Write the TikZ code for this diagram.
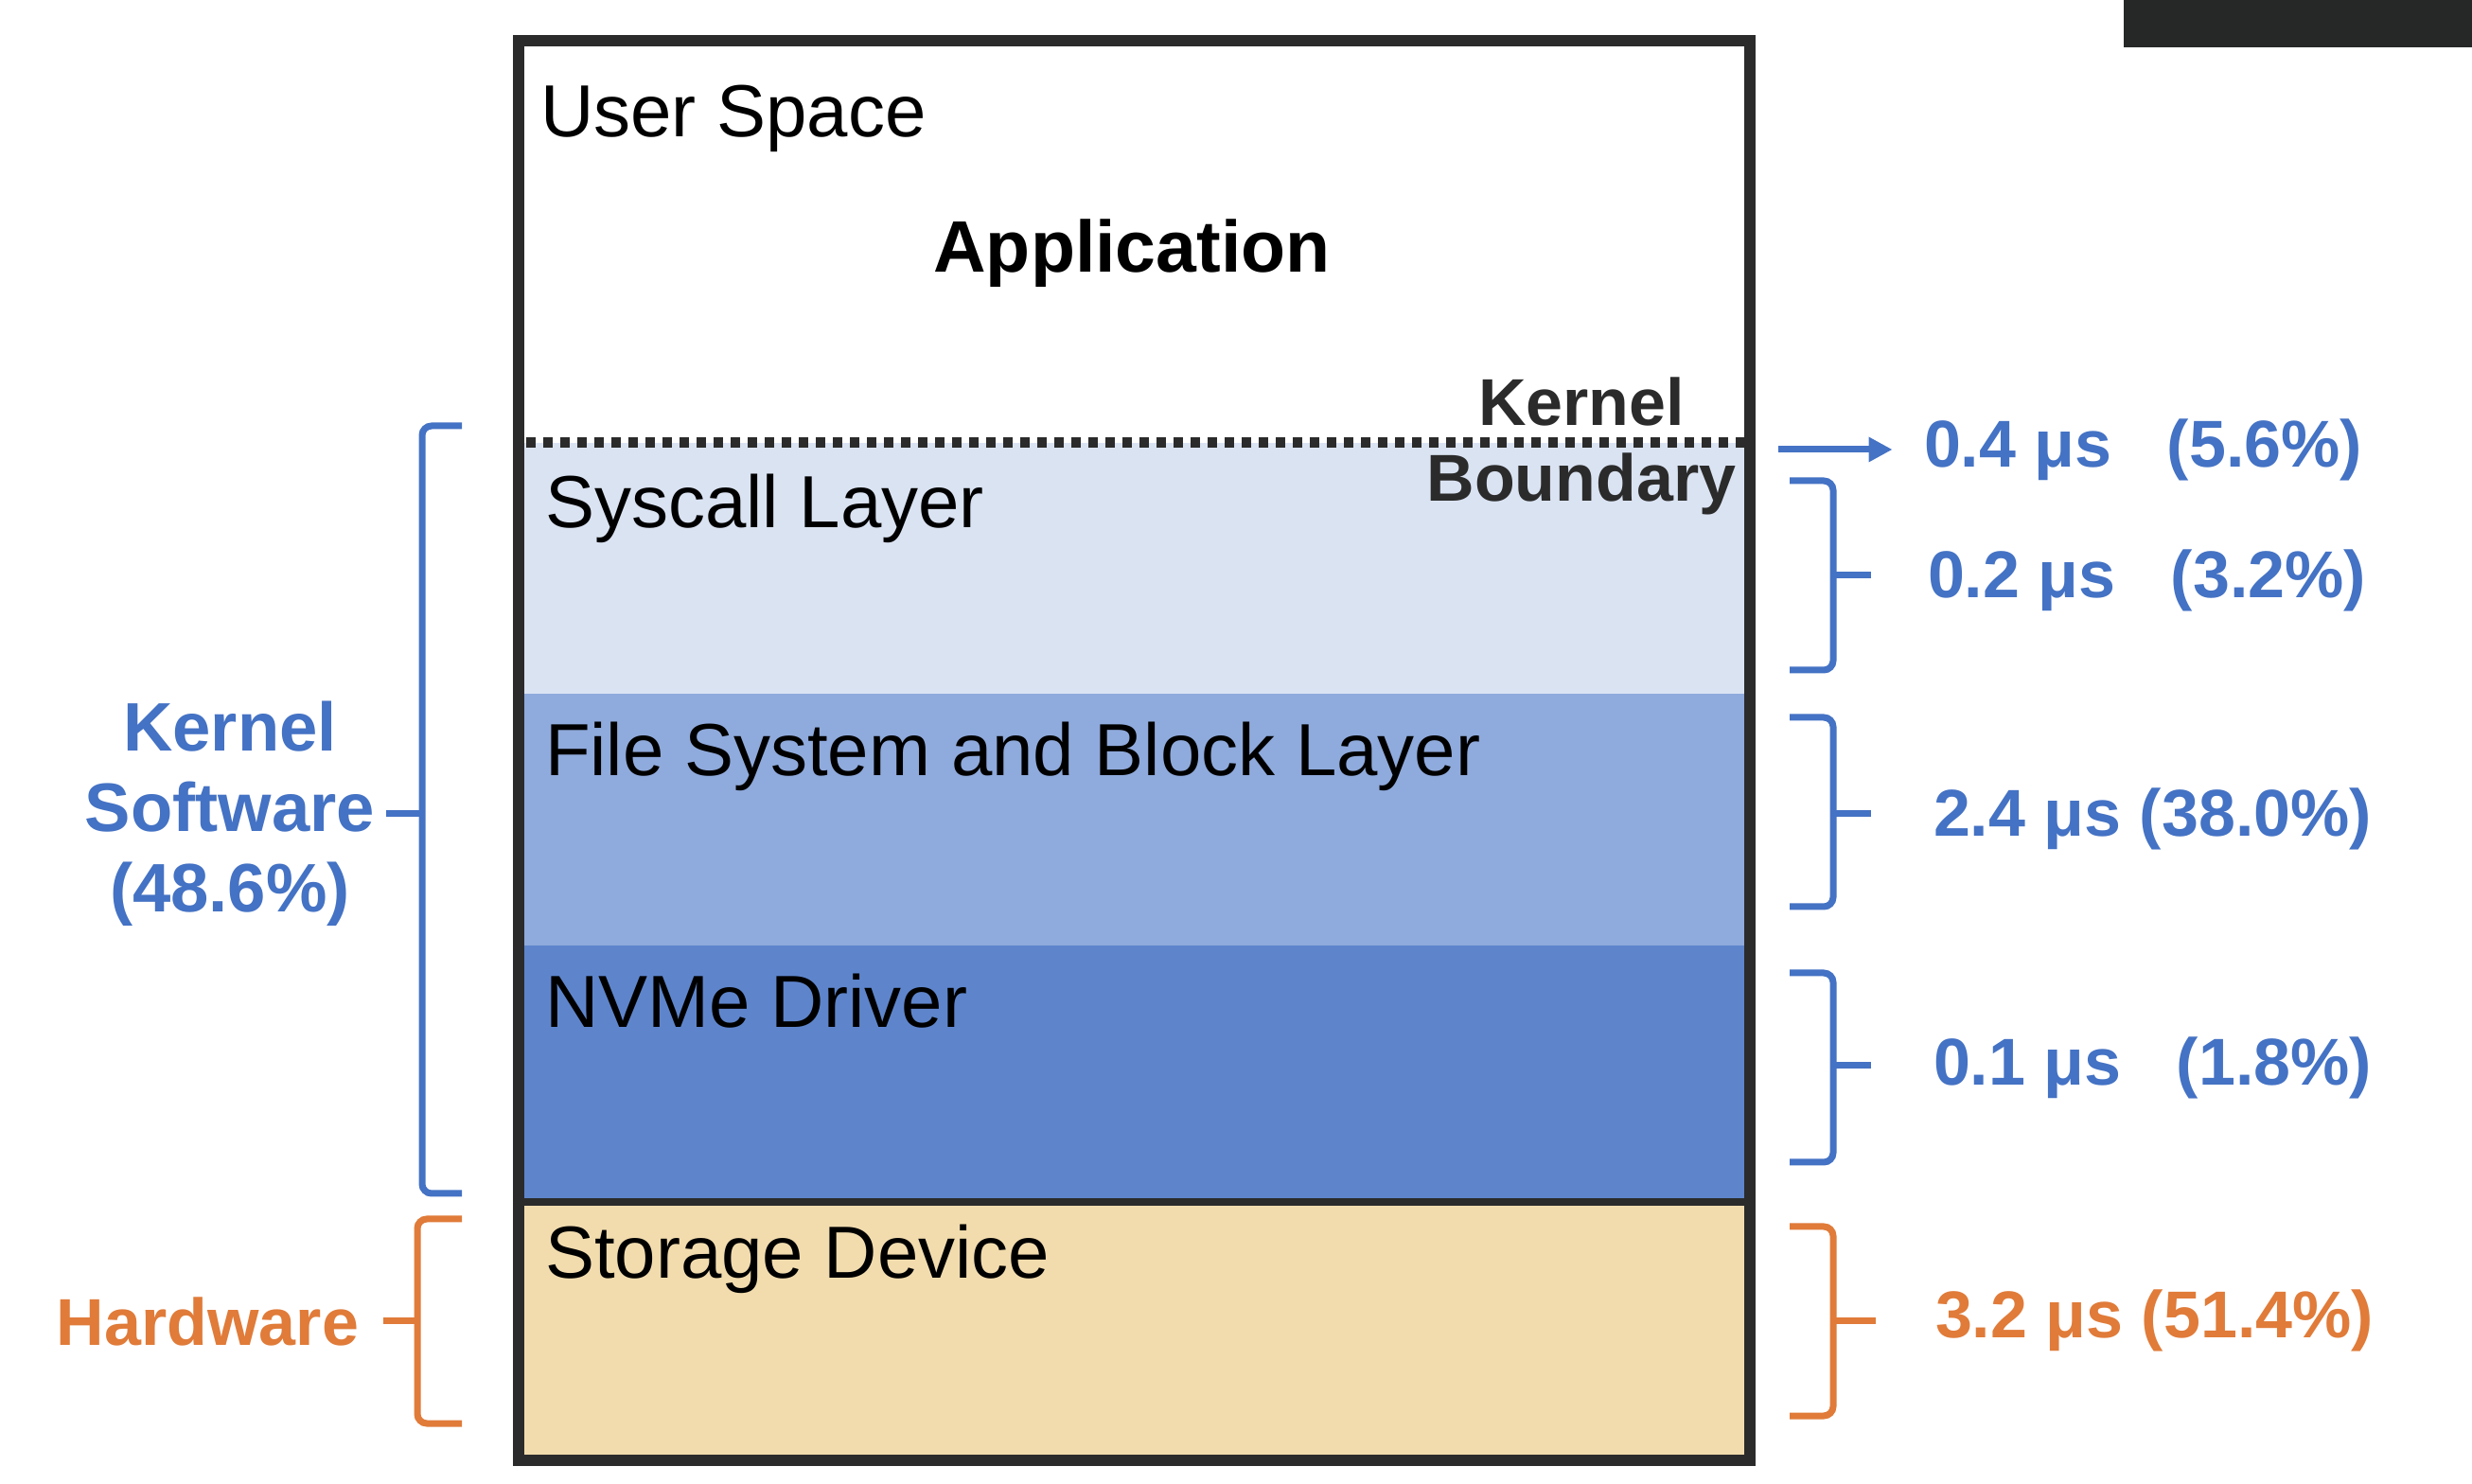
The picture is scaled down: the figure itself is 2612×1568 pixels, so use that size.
\documentclass[tikz,border=0pt]{standalone}
\usepackage{fontspec}
\setmainfont{Liberation Sans}
\usetikzlibrary{arrows.meta}
\definecolor{kblue}{HTML}{4472C4}
\definecolor{korange}{HTML}{E07B39}
\definecolor{lsys}{HTML}{DAE3F2}
\definecolor{lfs}{HTML}{8FAADC}
\definecolor{lnvme}{HTML}{5E85CC}
\definecolor{lstor}{HTML}{F2DCAE}
\definecolor{frm}{HTML}{2B2B2B}
\definecolor{scr}{HTML}{262828}
\newcommand\lbl[2]{\makebox[92.6pt]{#1\hfill#2}}
\begin{document}
\begin{tikzpicture}[x=0.2pt,y=-0.2pt,
  plain/.style={inner sep=0pt, font=\fontsize{15.6pt}{18pt}\selectfont, anchor=base west},
  boldtxt/.style={inner sep=0pt, font=\bfseries\fontsize{14pt}{17pt}\selectfont},
  bluebr/.style={draw=kblue, line width=1.4pt, rounded corners=2pt},
  orangebr/.style={draw=korange, line width=1.4pt, rounded corners=2pt},
  val/.style={boldtxt, anchor=west, text=kblue}]
\useasboundingbox (0,0) rectangle (2612,1568);
\fill[white] (0,0) rectangle (2612,1568);
\fill[scr] (2244,0) rectangle (2612,50);
% layers
\fill[lsys] (548,468) rectangle (1849,733);
\fill[lfs] (548,733) rectangle (1849,999);
\fill[lnvme] (548,999) rectangle (1849,1268);
\fill[lstor] (548,1268) rectangle (1849,1543);
\draw[frm, line width=2.2pt, dash pattern=on 2pt off 1.6pt] (556,468) -- (1843,468);
\draw[frm, line width=1.6pt] (548,1270) -- (1849,1270);
\draw[frm, line width=2.4pt] (548,43) rectangle (1849,1543);
% texts in box
\node[plain] (us) at (570,145) {User Space};
\node[inner sep=0pt, font=\bfseries\fontsize{15.4pt}{18pt}\selectfont, anchor=base] (app) at (1196,288) {Application};
\node[boldtxt, anchor=base, text=frm] (kb1) at (1671,450) {Kernel};
\node[boldtxt, anchor=base, text=frm] (kb2) at (1671,530) {Boundary};
\node[plain] (sys) at (575,558) {Syscall Layer};
\node[plain] (fs) at (575,820) {File System and Block Layer};
\node[plain] (nv) at (575,1086) {NVMe Driver};
\node[plain] (st) at (575,1351) {Storage Device};
% right side
\node[val] (v1) at (2032,475) {\lbl{0.4 μs}{(5.6\%)}};
\coordinate (a1) at (1879,475);
\draw[kblue, line width=1.4pt, -{Triangle[length=5pt,width=5pt]}] (a1) -- ([xshift=-6.5pt]v1.west);
\node[val] (v2) at (2036,613) {\lbl{0.2 μs}{(3.2\%)}};
\draw[bluebr] (1891,508) -- (1937,508) -- (1937,708) -- (1891,708);
\draw[bluebr] (1937,608) -- (1977,608);
\node[val] (v3) at (2042,865) {2.4 μs (38.0\%)};
\draw[bluebr] (1891,758) -- (1937,758) -- (1937,958) -- (1891,958);
\draw[bluebr] (1937,860) -- (1977,860);
\node[val] (v4) at (2042,1128) {\lbl{0.1 μs}{(1.8\%)}};
\draw[bluebr] (1891,1028) -- (1937,1028) -- (1937,1228) -- (1891,1228);
\draw[bluebr] (1937,1126) -- (1977,1126);
\node[val, text=korange] (v5) at (2044,1395) {3.2 μs (51.4\%)};
\draw[orangebr] (1891,1296) -- (1937,1296) -- (1937,1496) -- (1891,1496);
\draw[orangebr] (1937,1396) -- (1982,1396);
% left side
\draw[bluebr] (488,450) -- (446,450) -- (446,1261) -- (488,1261);
\draw[bluebr] (446,860) -- (408,860);
\node[boldtxt, text=kblue, align=center, font=\bfseries\fontsize{14.5pt}{17pt}\selectfont] (ks) at (243,860) {Kernel\\Software\\(48.6\%)};
\draw[orangebr] (488,1288) -- (441,1288) -- (441,1504) -- (488,1504);
\draw[orangebr] (441,1396) -- (405,1396);
\node[boldtxt, text=korange, anchor=east] (hw) at (380,1396) {Hardware};
\end{tikzpicture}
\end{document}
